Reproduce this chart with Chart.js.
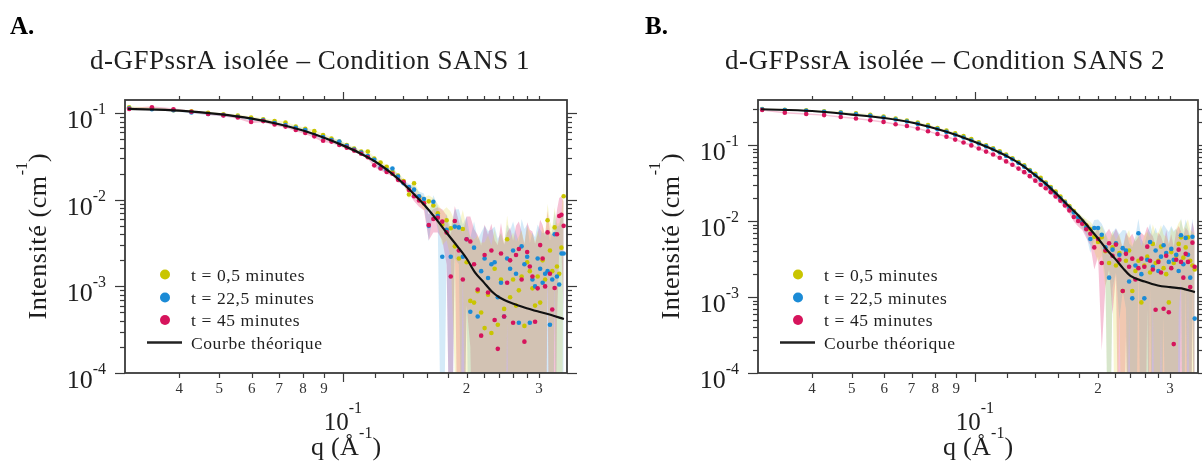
<!DOCTYPE html>
<html><head><meta charset="utf-8">
<script src="https://cdn.jsdelivr.net/npm/chart.js@4.4.1/dist/chart.umd.min.js"></script>
<style>
html,body{margin:0;padding:0;background:#fff;overflow:hidden}
#wrap{position:relative;width:1202px;height:463px;background:#fff}
.pane{position:absolute;top:0;width:601px;height:463px}
canvas{display:block}
</style></head><body>
<div id="wrap">
<div class="pane" style="left:0"><canvas id="cA" width="601" height="463"></canvas></div>
<div class="pane" style="left:601px"><canvas id="cB" width="601" height="463"></canvas></div>
</div>
<script>
// ---------------- DATA ----------------
const q = [
 0.0302, 0.0343, 0.0387, 0.0428, 0.0470,
 0.0512, 0.0555, 0.0598, 0.0640, 0.0682,
 0.0725, 0.0768, 0.0810, 0.0852, 0.0895,
 0.0938, 0.0980, 0.1022, 0.1065, 0.1108,
 0.1150, 0.1192, 0.1235, 0.1278, 0.1320,
 0.1362, 0.1405, 0.1448, 0.1490, 0.1532,
 0.1575, 0.1618, 0.1660, 0.1702, 0.1745,
 0.1788, 0.1830, 0.1872, 0.1915, 0.1958,
 0.2000, 0.2042, 0.2085, 0.2128, 0.2170,
 0.2212, 0.2255, 0.2298, 0.2340, 0.2382,
 0.2425, 0.2468, 0.2510, 0.2552, 0.2595,
 0.2638, 0.2680, 0.2722, 0.2765, 0.2808,
 0.2850, 0.2892, 0.2935, 0.2978, 0.3020,
 0.3062, 0.3105, 0.3148, 0.3190, 0.3232,
 0.3275, 0.3318, 0.3360, 0.3402, 0.3445];

const seriesLabels = ['t = 0,5 minutes', 't = 22,5 minutes', 't = 45 minutes'];
const theoryLabel = 'Courbe théorique';

// Panel A : Condition SANS 1
const A_t05 = [
 0.117, 0.113, 0.108, 0.105, 0.101,
 0.097, 0.094, 0.089, 0.085, 0.081,
 0.078, 0.070, 0.066, 0.062, 0.056,
 0.051, 0.047, 0.043, 0.039, 0.036,
 0.036, 0.030, 0.027, 0.024, 0.021,
 0.019, 0.0165, 0.0115, 0.0155, 0.0105,
 0.0092, 0.0096, 0.0086, 0.0070, 0.0052,
 0.0058, 0.0047, 0.0029, 0.0021, 0.0046,
 0.0019, 0.00068, 0.00065, 0.00088, 0.0005,
 0.00033, 0.0008, 0.00029, 0.0016, 0.00036,
 0.0012, 0.00055, 0.0035, 0.00075, 0.0012,
 0.0006, 0.0009, 0.0013, 0.00035, 0.0019,
 0.0015, 0.00095, 0.0006, 0.0013, 0.00065,
 0.0020, 0.0012, 0.0058, 0.0026, 0.0015,
 0.0048, 0.0017, 0.0014, 0.0028, 0.0110];
const A_t225 = [
 0.114, 0.111, 0.108, 0.102, 0.098,
 0.095, 0.091, 0.085, 0.083, 0.077,
 0.073, 0.068, 0.064, 0.056, 0.053,
 0.049, 0.047, 0.042, 0.038, 0.035,
 0.032, 0.029, 0.0235, 0.022, 0.023,
 0.0185, 0.0155, 0.014, 0.0131, 0.0110,
 0.0102, 0.0050, 0.0095, 0.0065, 0.0022,
 0.0045, 0.0022, 0.0049, 0.0048, 0.0022,
 0.0035, 0.00051, 0.0028, 0.00045, 0.0015,
 0.0021, 0.00125, 0.0018, 0.0019, 0.00075,
 0.0011, 0.00045, 0.0021, 0.0016, 0.0026,
 0.0014, 0.00038, 0.0029, 0.0018, 0.0022,
 0.00038, 0.0012, 0.0010, 0.0021, 0.0016,
 0.0011, 0.0014, 0.0015, 0.00036, 0.0012,
 0.0040, 0.0013, 0.00105, 0.0024, 0.0024];
const A_t45 = [
 0.112, 0.117, 0.111, 0.104, 0.098,
 0.094, 0.089, 0.079, 0.081, 0.074,
 0.070, 0.064, 0.059, 0.054, 0.048,
 0.047, 0.043, 0.040, 0.037, 0.034,
 0.031, 0.025, 0.023, 0.021, 0.020,
 0.017, 0.016, 0.013, 0.011, 0.0098,
 0.0091, 0.0051, 0.0060, 0.0062, 0.0056,
 0.0042, 0.0013, 0.0057, 0.0026, 0.0012,
 0.0035, 0.0033, 0.0018, 0.00092, 0.00027,
 0.0023, 0.00085, 0.0026, 0.00041, 0.00019,
 0.0024, 0.00045, 0.0011, 0.0020, 0.00038,
 0.0023, 0.0027, 0.0012, 0.00023, 0.0025,
 0.0017, 0.0013, 0.00039, 0.00095, 0.0030,
 0.0021, 0.0010, 0.0042, 0.0014, 0.00054,
 0.00096, 0.0040, 0.0065, 0.0067, 0.0050];
const A_sigma = [
 0.0030, 0.0030, 0.0030, 0.0029, 0.0028,
 0.0027, 0.0026, 0.0025, 0.0024, 0.0023,
 0.0022, 0.0021, 0.0020, 0.0019, 0.0018,
 0.0017, 0.0016, 0.0015, 0.0014, 0.0013,
 0.0012, 0.0012, 0.0011, 0.0011, 0.0011,
 0.0011, 0.0012, 0.0013, 0.0014, 0.0015,
 0.0016, 0.0017, 0.0018, 0.0020, 0.0022,
 0.0024, 0.0026, 0.0028, 0.0030, 0.0030,
 0.0029, 0.0031, 0.0028, 0.0030, 0.0027,
 0.0029, 0.0031, 0.0027, 0.0030, 0.0028,
 0.0030, 0.0026, 0.0031, 0.0028, 0.0030,
 0.0027, 0.0029, 0.0031, 0.0028, 0.0030,
 0.0028, 0.0030, 0.0027, 0.0031, 0.0029,
 0.0030, 0.0028, 0.0032, 0.0030, 0.0033,
 0.0034, 0.0036, 0.0040, 0.0042, 0.0045];

// Panel B : Condition SANS 2
const B_t05 = [
 0.298, 0.292, 0.286, 0.279, 0.270,
 0.261, 0.250, 0.237, 0.224, 0.211,
 0.198, 0.183, 0.168, 0.155, 0.143,
 0.131, 0.120, 0.109, 0.099, 0.091,
 0.083, 0.075, 0.067, 0.060, 0.054,
 0.047, 0.042, 0.037, 0.032, 0.028,
 0.0245, 0.021, 0.018, 0.0158, 0.0135,
 0.0115, 0.0100, 0.0088, 0.0078, 0.0062,
 0.0053, 0.0061, 0.0040, 0.0028, 0.0045,
 0.0026, 0.0038, 0.0012, 0.0030, 0.0041,
 0.0012, 0.0022, 0.0030, 0.00085, 0.0026,
 0.0034, 0.0021, 0.0050, 0.0028, 0.0030,
 0.0046, 0.0024, 0.0020, 0.00085, 0.0039,
 0.0028, 0.0035, 0.0050, 0.0061, 0.0033,
 0.0045, 0.0061, 0.0030, 0.0026, 0.0023];
const B_t225 = [
 0.296, 0.290, 0.283, 0.275, 0.265,
 0.255, 0.243, 0.230, 0.217, 0.204,
 0.190, 0.175, 0.162, 0.149, 0.137,
 0.126, 0.115, 0.105, 0.096, 0.088,
 0.080, 0.072, 0.065, 0.058, 0.052,
 0.046, 0.040, 0.035, 0.031, 0.027,
 0.023, 0.020, 0.0175, 0.015, 0.0130,
 0.0112, 0.0097, 0.0083, 0.0058, 0.0081,
 0.0081, 0.0066, 0.0045, 0.0018, 0.0042,
 0.0051, 0.0036, 0.0044, 0.0041, 0.0016,
 0.00096, 0.0026, 0.0069, 0.0020, 0.00096,
 0.0031, 0.0053, 0.0025, 0.0041, 0.0022,
 0.0034, 0.0048, 0.0038, 0.0029, 0.0043,
 0.0031, 0.0036, 0.0022, 0.0065, 0.0027,
 0.0060, 0.0036, 0.0018, 0.0062, 0.00052];
const B_t45 = [
 0.290, 0.267, 0.256, 0.248, 0.234,
 0.224, 0.212, 0.202, 0.188, 0.178,
 0.165, 0.152, 0.140, 0.129, 0.118,
 0.108, 0.099, 0.090, 0.082, 0.075,
 0.068, 0.061, 0.055, 0.049, 0.044,
 0.039, 0.034, 0.030, 0.027, 0.024,
 0.021, 0.0185, 0.0160, 0.0138, 0.0113,
 0.0100, 0.0092, 0.0078, 0.0068, 0.0045,
 0.0058, 0.0028, 0.0041, 0.0051, 0.0035,
 0.0049, 0.0031, 0.0012, 0.0037, 0.0025,
 0.0032, 0.0017, 0.0024, 0.0032, 0.0025,
 0.0046, 0.0030, 0.0023, 0.00068, 0.0029,
 0.0021, 0.0007, 0.0035, 0.00063, 0.0024,
 0.00024, 0.0031, 0.0042, 0.0029, 0.0018,
 0.0037, 0.0029, 0.00135, 0.0052, 0.0025];
const B_sigma = [
 0.0060, 0.0058, 0.0056, 0.0054, 0.0052,
 0.0050, 0.0048, 0.0046, 0.0044, 0.0042,
 0.0040, 0.0038, 0.0036, 0.0034, 0.0032,
 0.0030, 0.0028, 0.0026, 0.0024, 0.0022,
 0.0021, 0.0020, 0.0019, 0.0018, 0.0017,
 0.0016, 0.0015, 0.0014, 0.0013, 0.0013,
 0.0012, 0.0012, 0.0012, 0.0013, 0.0014,
 0.0015, 0.0016, 0.0018, 0.0020, 0.0022,
 0.0024, 0.0026, 0.0027, 0.0028, 0.0029,
 0.0030, 0.0031, 0.0032, 0.0034, 0.0035,
 0.0036, 0.0037, 0.0038, 0.0038, 0.0039,
 0.0039, 0.0040, 0.0040, 0.0041, 0.0041,
 0.0042, 0.0042, 0.0042, 0.0043, 0.0043,
 0.0043, 0.0044, 0.0044, 0.0044, 0.0045,
 0.0045, 0.0045, 0.0046, 0.0046, 0.0046];

// Theoretical curves
const qTheory = [0.030, 0.040, 0.050, 0.060, 0.070, 0.080, 0.090, 0.100, 0.110, 0.120,
 0.130, 0.140, 0.150, 0.160, 0.170, 0.180, 0.190, 0.200, 0.210, 0.220,
 0.230, 0.240, 0.260, 0.280, 0.300, 0.320, 0.345];
const A_theory = [0.112, 0.107, 0.0975, 0.0865, 0.0745, 0.063, 0.052, 0.0425, 0.0345, 0.0275,
 0.021, 0.0155, 0.0112, 0.0081, 0.0057, 0.0040, 0.0029, 0.0021, 0.00143, 0.00112,
 0.00088, 0.00075, 0.00063, 0.00056, 0.00051, 0.00047, 0.00042];
const B_theory = [0.296, 0.281, 0.252, 0.227, 0.198, 0.165, 0.136, 0.110, 0.089, 0.071,
 0.055, 0.0405, 0.030, 0.0215, 0.0155, 0.0115, 0.0082, 0.0059, 0.0042, 0.0032,
 0.0024, 0.0019, 0.0016, 0.00142, 0.00135, 0.0013, 0.00116];

// Tick values / labels
const xTicks = [0.04, 0.05, 0.06, 0.07, 0.08, 0.09, 0.1, 0.12, 0.14, 0.16, 0.18, 0.2, 0.22, 0.24, 0.26, 0.28, 0.3];
const xTickLabels = ['4', '5', '6', '7', '8', '9', '', '', '', '', '', '2', '', '', '', '', '3'];
const xDecade = 0.1;
const yDecades = [1e-4, 1e-3, 1e-2, 1e-1];
const yDecadeExps = ['-4', '-3', '-2', '-1'];

// ---------------- STYLE ----------------
const pointColors = ['#c9c500', '#1b8bd6', '#d6145c'];
const bandColors = ['rgba(226,216,60,0.24)', 'rgba(60,160,225,0.22)', 'rgba(224,40,110,0.28)'];
const frameColor = '#3a3a3a';
const textColor = '#1e1e1e';
const SERIF = '"Liberation Serif", "Times New Roman", serif';

function setSpacing(ctx, px) { if ('letterSpacing' in ctx) ctx.letterSpacing = px + 'px'; }

function drawRich(ctx, parts, x, y, align) {
  let total = 0;
  const ws = parts.map(p => { ctx.font = p.font; setSpacing(ctx, p.sp || 0); const w = ctx.measureText(p.t).width; total += w; return w; });
  let cx = align === 'right' ? x - total : align === 'center' ? x - total / 2 : x;
  ctx.textAlign = 'left';
  ctx.textBaseline = 'alphabetic';
  parts.forEach((p, i) => { ctx.font = p.font; setSpacing(ctx, p.sp || 0); ctx.fillText(p.t, cx, y - (p.rise || 0)); cx += ws[i]; });
  setSpacing(ctx, 0);
}

const decorPlugin = {
  id: 'decor',
  afterDatasetsDraw(chart) {
    const cfg = chart.options.plugins.decor;
    const { ctx, chartArea: a, scales: { x, y } } = chart;
    ctx.save();
    ctx.strokeStyle = frameColor;
    ctx.lineWidth = 1.8;
    ctx.strokeRect(a.left, a.top, a.right - a.left, a.bottom - a.top);
    ctx.lineWidth = 1.2;
    const seg = (x1, y1, x2, y2) => { ctx.beginPath(); ctx.moveTo(x1, y1); ctx.lineTo(x2, y2); ctx.stroke(); };
    for (let e = -5; e <= 0; e++) {
      for (let m = 1; m <= 9; m++) {
        const v = m * Math.pow(10, e);
        if (v < y.min * 0.999 || v > y.max * 1.001) continue;
        const py = Math.round(y.getPixelForValue(v)) + 0.5;
        const len = m === 1 ? 10 : 5;
        seg(a.left - len, py, a.left, py);
        seg(a.right, py, a.right + len, py);
      }
    }
    xTicks.forEach((v) => {
      const px = Math.round(x.getPixelForValue(v)) + 0.5;
      const major = Math.abs(v - xDecade) < 1e-9;
      seg(px, a.bottom, px, a.bottom + (major ? 9 : 5));
      seg(px, a.top, px, a.top - (major ? 8 : 4));
    });
    ctx.fillStyle = textColor;
    yDecades.forEach((v, i) => {
      if (v < y.min * 0.999 || v > y.max * 1.001) return;
      const py = y.getPixelForValue(v);
      drawRich(ctx, [
        { t: '10', font: '26px ' + SERIF },
        { t: yDecadeExps[i], font: '16px ' + SERIF, rise: 14 }
      ], a.left - 19, py + 15, 'right');
    });
    ctx.fillStyle = '#333';
    xTicks.forEach((v, i) => {
      if (!xTickLabels[i]) return;
      ctx.font = '15px ' + SERIF;
      ctx.textAlign = 'center';
      ctx.fillText(xTickLabels[i], x.getPixelForValue(v), a.bottom + 20);
    });
    ctx.fillStyle = textColor;
    drawRich(ctx, [
      { t: '10', font: '25px ' + SERIF },
      { t: '-1', font: '16px ' + SERIF, rise: 17 }
    ], x.getPixelForValue(xDecade), a.bottom + 57, 'center');
    const midX = (a.left + a.right) / 2;
    drawRich(ctx, [
      { t: 'q (Å', font: '26px ' + SERIF, sp: 0.3 },
      { t: '-1', font: '16px ' + SERIF, rise: 17 },
      { t: ')', font: '26px ' + SERIF }
    ], midX, a.bottom + 82, 'center');
    ctx.save();
    ctx.translate(a.left - 79, (a.top + a.bottom) / 2);
    ctx.rotate(-Math.PI / 2);
    drawRich(ctx, [
      { t: 'Intensité (cm', font: '26px ' + SERIF, sp: 0.6 },
      { t: '-1', font: '16px ' + SERIF, rise: 19 },
      { t: ')', font: '26px ' + SERIF }
    ], 0, 0, 'center');
    ctx.restore();
    ctx.fillStyle = '#000';
    ctx.font = 'bold 25px ' + SERIF;
    ctx.textAlign = 'left';
    ctx.fillText(cfg.letter, cfg.letterX, 34);
    ctx.fillStyle = textColor;
    ctx.font = '27px ' + SERIF;
    setSpacing(ctx, 0.5);
    ctx.textAlign = 'center';
    ctx.fillText(cfg.title, cfg.titleX, 69);
    setSpacing(ctx, 0);
    const lx = a.left;
    const rows = [274.5, 297.5, 320, 342.5];
    seriesLabels.forEach((lab, i) => {
      ctx.fillStyle = pointColors[i];
      ctx.beginPath(); ctx.arc(lx + 40, rows[i], 5, 0, Math.PI * 2); ctx.fill();
    });
    ctx.strokeStyle = '#222'; ctx.lineWidth = 2.5;
    seg(lx + 22, rows[3], lx + 57, rows[3]);
    ctx.fillStyle = textColor;
    ctx.font = '17.5px ' + SERIF;
    setSpacing(ctx, 0.6);
    ctx.textAlign = 'left';
    seriesLabels.forEach((lab, i) => ctx.fillText(lab, lx + 66, rows[i] + 6));
    ctx.fillText(theoryLabel, lx + 66, rows[3] + 6);
    setSpacing(ctx, 0);
    ctx.restore();
  }
};

function buildDatasets(series, sigma, theory) {
  const ds = [];
  ds.push({
    type: 'line', label: theoryLabel,
    data: qTheory.map((v, i) => ({ x: v, y: theory[i] })),
    borderColor: '#111', borderWidth: 2.2, pointRadius: 0,
    cubicInterpolationMode: 'monotone', fill: false, order: 0
  });
  series.forEach((vals, s) => {
    ds.push({
      type: 'scatter', label: seriesLabels[s],
      data: q.map((v, i) => ({ x: v, y: vals[i] })),
      backgroundColor: pointColors[s], borderWidth: 0, pointRadius: 2.3,
      order: 3 - s
    });
  });
  series.forEach((vals, s) => {
    const idx = ds.length;
    ds.push({
      type: 'line', label: 'up' + s,
      data: q.map((v, i) => ({ x: v, y: vals[i] + sigma[i] })),
      borderColor: 'rgba(0,0,0,0)', borderWidth: 0, pointRadius: 0,
      backgroundColor: bandColors[s], fill: idx + 1, tension: 0, order: 10 + s
    });
    ds.push({
      type: 'line', label: 'lo' + s,
      data: q.map((v, i) => ({ x: v, y: Math.max(vals[i] - sigma[i], 1e-6) })),
      borderColor: 'rgba(0,0,0,0)', borderWidth: 0, pointRadius: 0,
      fill: false, tension: 0, order: 10 + s
    });
  });
  return ds;
}

function makeChart(id, series, sigma, theory, yMax, pad, decor) {
  return new Chart(document.getElementById(id), {
    data: { datasets: buildDatasets(series, sigma, theory) },
    options: {
      responsive: false, animation: false, devicePixelRatio: 1,
      layout: { padding: pad },
      scales: {
        x: { type: 'logarithmic', min: 0.0295, max: 0.351, display: false },
        y: { type: 'logarithmic', min: 1e-4, max: yMax, display: false }
      },
      plugins: { legend: { display: false }, tooltip: { enabled: false }, decor: decor }
    },
    plugins: [decorPlugin]
  });
}

makeChart('cA', [A_t05, A_t225, A_t45], A_sigma, A_theory, 0.142,
  { left: 125, top: 100, right: 34, bottom: 90 },
  { letter: 'A.', letterX: 10, title: 'd-GFPssrA isolée – Condition SANS 1', titleX: 310 });
makeChart('cB', [B_t05, B_t225, B_t45], B_sigma, B_theory, 0.392,
  { left: 157, top: 100, right: 2, bottom: 90 },
  { letter: 'B.', letterX: 44, title: 'd-GFPssrA isolée – Condition SANS 2', titleX: 344 });
</script>
</body></html>
